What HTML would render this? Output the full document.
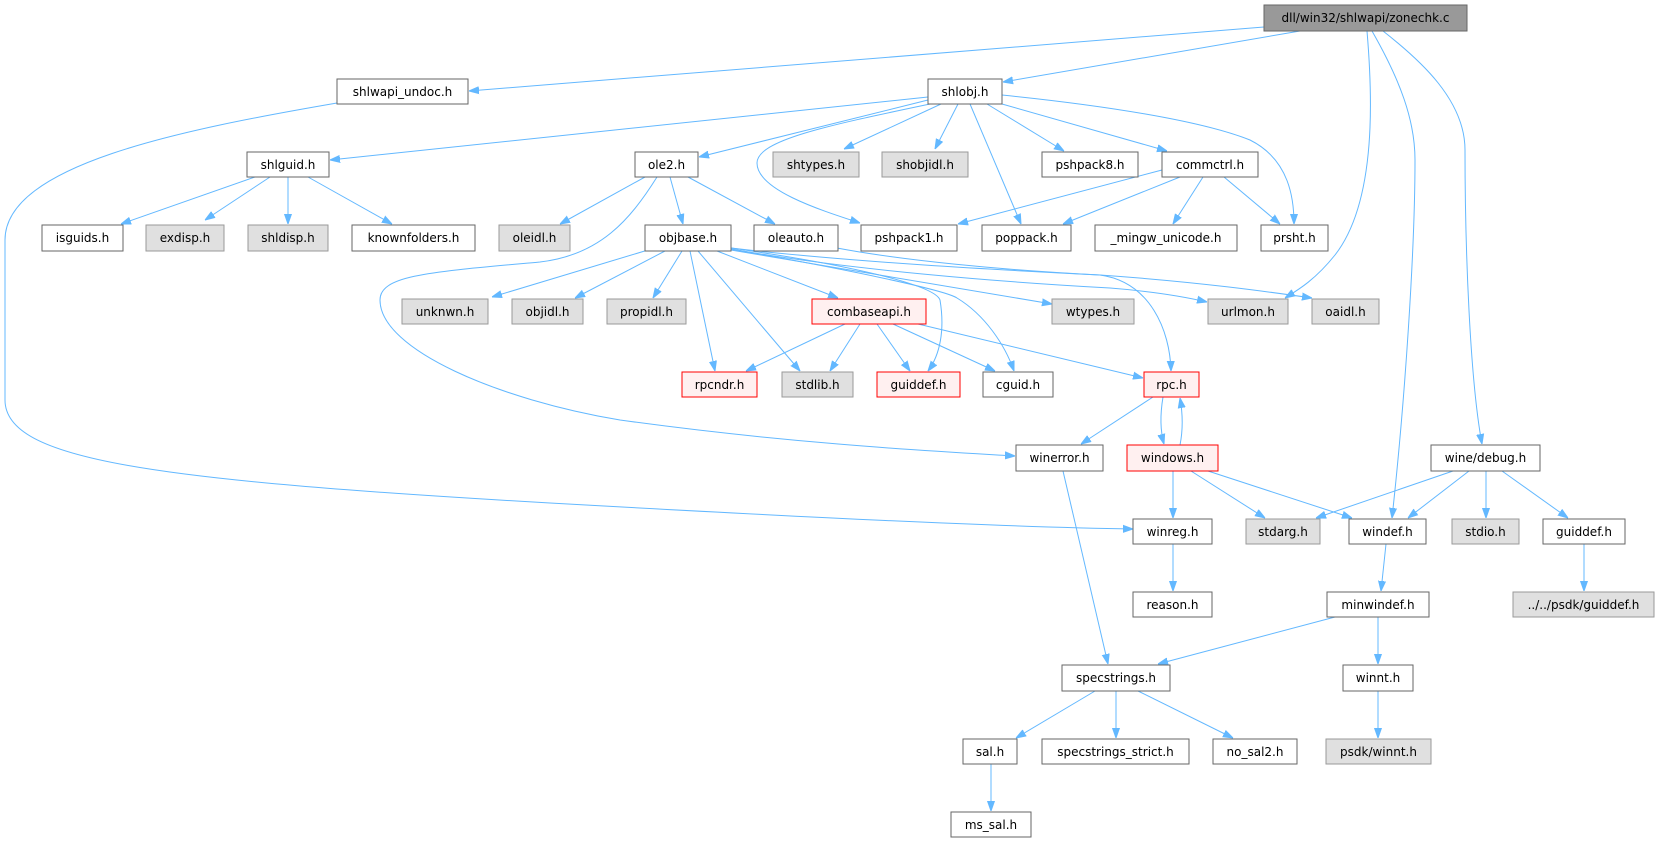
<!DOCTYPE html>
<html><head><meta charset="utf-8"><style>
html,body{margin:0;padding:0;background:#fff;}
svg{display:block;}
text{font-family:"DejaVu Sans","Liberation Sans",sans-serif;font-size:12px;fill:#000;text-anchor:middle;}
.w{fill:#fff;stroke:#666;stroke-width:1;}
.g{fill:#e0e0e0;stroke:#999;stroke-width:1;}
.r{fill:#fff0f0;stroke:#f00;stroke-width:1;}
.m{fill:#999;stroke:#666;stroke-width:1;}
path{fill:none;stroke:#63b8ff;stroke-width:1;marker-end:url(#a);}
</style></head><body>
<svg width="1663" height="843" viewBox="0 0 1663 843" xmlns="http://www.w3.org/2000/svg">
<defs><marker id="a" viewBox="0 0 10 10" refX="10" refY="5" markerWidth="10" markerHeight="10" markerUnits="userSpaceOnUse" orient="auto"><path d="M0,1.5 L10,5 L0,8.5 z" style="fill:#63b8ff;stroke:#63b8ff;marker-end:none"/></marker></defs>

<!-- edges -->
<path d="M1264,27 L469,91"/>
<path d="M1300,31 L1003,82"/>
<path d="M1367,31 C1372,90 1378,200 1335,255 C1315,280 1298,290 1285,298"/>
<path d="M1372,31 C1400,80 1415,120 1415,160 C1415,250 1405,400 1392,518"/>
<path d="M1383,31 C1420,60 1465,100 1465,150 C1465,250 1470,380 1482,444"/>
<path d="M337,103 C180,130 5,165 5,240 L5,400 C5,460 150,480 550,503 C800,517 1000,527 1133,529"/>
<path d="M928,97 L330,160"/>
<path d="M928,100 L699,157"/>
<path d="M930,104 C830,125 757,140 757,163 C757,190 820,210 860,223"/>
<path d="M941,104 L844,149"/>
<path d="M958,104 L935,149"/>
<path d="M970,104 L1021,224"/>
<path d="M987,104 L1064,151"/>
<path d="M1002,104 L1167,151"/>
<path d="M1002,95 C1100,105 1200,120 1250,140 C1290,160 1294,200 1294,224"/>
<path d="M255,177 L121,224"/>
<path d="M270,177 L205,220"/>
<path d="M288,177 L288,224"/>
<path d="M308,177 L392,224"/>
<path d="M645,177 L560,224"/>
<path d="M670,177 L683,224"/>
<path d="M688,177 L775,224"/>
<path d="M657,177 C630,220 600,255 540,262 C430,272 380,275 380,300 C380,350 500,400 620,420 C800,445 950,452 1015,456"/>
<path d="M648,250 L492,297"/>
<path d="M665,251 L575,298"/>
<path d="M682,251 L653,298"/>
<path d="M690,251 L715,371"/>
<path d="M698,251 L800,371"/>
<path d="M717,251 L838,298"/>
<path d="M731,248 C850,265 935,285 940,300 C945,330 940,355 928,371"/>
<path d="M731,249 C850,270 945,290 957,298 C985,315 1005,345 1014,371"/>
<path d="M731,250 L1052,304"/>
<path d="M731,249 C850,270 1000,282 1110,288 C1160,292 1190,298 1207,302"/>
<path d="M731,248 C850,262 1000,270 1100,275 C1150,282 1170,330 1171,371"/>
<path d="M837,248 C900,260 1000,270 1100,275 C1200,282 1270,292 1312,298"/>
<path d="M845,324 L746,371"/>
<path d="M860,324 L830,371"/>
<path d="M877,324 L910,371"/>
<path d="M893,324 L995,371"/>
<path d="M918,324 L1143,378"/>
<path d="M1153,397 L1081,444"/>
<path d="M1163,397 C1160,415 1160,430 1164,444"/>
<path d="M1180,445 C1183,430 1183,415 1180,398"/>
<path d="M1173,471 L1173,518"/>
<path d="M1191,471 L1265,518"/>
<path d="M1208,471 L1352,518"/>
<path d="M1453,471 L1316,518"/>
<path d="M1469,471 L1408,518"/>
<path d="M1486,471 L1486,518"/>
<path d="M1502,471 L1568,518"/>
<path d="M1173,544 L1173,591"/>
<path d="M1386,544 L1381,591"/>
<path d="M1335,617 L1158,664"/>
<path d="M1378,617 L1378,664"/>
<path d="M1378,691 L1378,738"/>
<path d="M1584,544 L1584,591"/>
<path d="M1063,471 L1108,664"/>
<path d="M1095,691 L1016,738"/>
<path d="M1116,691 L1116,738"/>
<path d="M1138,691 L1233,738"/>
<path d="M991,764 L991,811"/>
<path d="M1162,170 L958,224"/>
<path d="M1180,177 L1063,224"/>
<path d="M1203,177 L1173,224"/>
<path d="M1224,177 L1280,224"/>

<!-- nodes -->
<rect class="m" x="1264" y="5" width="203" height="26"/><text x="1365.5" y="22">dll/win32/shlwapi/zonechk.c</text>
<rect class="w" x="337" y="79" width="131" height="25"/><text x="402.5" y="96">shlwapi_undoc.h</text>
<rect class="w" x="928" y="79" width="74" height="25"/><text x="965" y="96">shlobj.h</text>
<rect class="w" x="247" y="152" width="82" height="25"/><text x="288" y="169">shlguid.h</text>
<rect class="w" x="635" y="152" width="63" height="25"/><text x="666.5" y="169">ole2.h</text>
<rect class="g" x="773" y="152" width="86" height="25"/><text x="816" y="169">shtypes.h</text>
<rect class="g" x="882" y="152" width="86" height="25"/><text x="925" y="169">shobjidl.h</text>
<rect class="w" x="1042" y="152" width="96" height="25"/><text x="1090" y="169">pshpack8.h</text>
<rect class="w" x="1162" y="152" width="96" height="25"/><text x="1210" y="169">commctrl.h</text>
<rect class="w" x="42" y="225" width="81" height="26"/><text x="82.5" y="242">isguids.h</text>
<rect class="g" x="146" y="225" width="78" height="26"/><text x="185" y="242">exdisp.h</text>
<rect class="g" x="248" y="225" width="80" height="26"/><text x="288" y="242">shldisp.h</text>
<rect class="w" x="352" y="225" width="123" height="26"/><text x="413.5" y="242">knownfolders.h</text>
<rect class="g" x="499" y="225" width="71" height="26"/><text x="534.5" y="242">oleidl.h</text>
<rect class="w" x="645" y="225" width="86" height="26"/><text x="688" y="242">objbase.h</text>
<rect class="w" x="754" y="225" width="84" height="26"/><text x="796" y="242">oleauto.h</text>
<rect class="w" x="861" y="225" width="96" height="26"/><text x="909" y="242">pshpack1.h</text>
<rect class="w" x="982" y="225" width="89" height="26"/><text x="1026.5" y="242">poppack.h</text>
<rect class="w" x="1095" y="225" width="142" height="26"/><text x="1166" y="242">_mingw_unicode.h</text>
<rect class="w" x="1261" y="225" width="67" height="26"/><text x="1294.5" y="242">prsht.h</text>
<rect class="g" x="402" y="299" width="86" height="25"/><text x="445" y="316">unknwn.h</text>
<rect class="g" x="512" y="299" width="71" height="25"/><text x="547.5" y="316">objidl.h</text>
<rect class="g" x="607" y="299" width="79" height="25"/><text x="646.5" y="316">propidl.h</text>
<rect class="r" x="812" y="299" width="114" height="25"/><text x="869" y="316">combaseapi.h</text>
<rect class="g" x="1052" y="299" width="82" height="25"/><text x="1093" y="316">wtypes.h</text>
<rect class="g" x="1208" y="299" width="80" height="25"/><text x="1248" y="316">urlmon.h</text>
<rect class="g" x="1312" y="299" width="67" height="25"/><text x="1345.5" y="316">oaidl.h</text>
<rect class="r" x="682" y="372" width="75" height="25"/><text x="719.5" y="389">rpcndr.h</text>
<rect class="g" x="782" y="372" width="71" height="25"/><text x="817.5" y="389">stdlib.h</text>
<rect class="r" x="877" y="372" width="83" height="25"/><text x="918.5" y="389">guiddef.h</text>
<rect class="w" x="983" y="372" width="70" height="25"/><text x="1018" y="389">cguid.h</text>
<rect class="r" x="1144" y="372" width="55" height="25"/><text x="1171.5" y="389">rpc.h</text>
<rect class="w" x="1016" y="445" width="87" height="26"/><text x="1059.5" y="462">winerror.h</text>
<rect class="r" x="1127" y="445" width="91" height="26"/><text x="1172.5" y="462">windows.h</text>
<rect class="w" x="1431" y="445" width="109" height="26"/><text x="1485.5" y="462">wine/debug.h</text>
<rect class="w" x="1133" y="519" width="79" height="25"/><text x="1172.5" y="536">winreg.h</text>
<rect class="g" x="1246" y="519" width="74" height="25"/><text x="1283" y="536">stdarg.h</text>
<rect class="w" x="1349" y="519" width="77" height="25"/><text x="1387.5" y="536">windef.h</text>
<rect class="g" x="1452" y="519" width="67" height="25"/><text x="1485.5" y="536">stdio.h</text>
<rect class="w" x="1543" y="519" width="82" height="25"/><text x="1584" y="536">guiddef.h</text>
<rect class="w" x="1133" y="592" width="79" height="25"/><text x="1172.5" y="609">reason.h</text>
<rect class="w" x="1327" y="592" width="102" height="25"/><text x="1378" y="609">minwindef.h</text>
<rect class="g" x="1513" y="592" width="141" height="25"/><text x="1583.5" y="609">../../psdk/guiddef.h</text>
<rect class="w" x="1062" y="665" width="108" height="26"/><text x="1116" y="682">specstrings.h</text>
<rect class="w" x="1343" y="665" width="70" height="26"/><text x="1378" y="682">winnt.h</text>
<rect class="w" x="963" y="739" width="54" height="25"/><text x="990" y="756">sal.h</text>
<rect class="w" x="1042" y="739" width="147" height="25"/><text x="1115.5" y="756">specstrings_strict.h</text>
<rect class="w" x="1213" y="739" width="84" height="25"/><text x="1255" y="756">no_sal2.h</text>
<rect class="g" x="1326" y="739" width="105" height="25"/><text x="1378.5" y="756">psdk/winnt.h</text>
<rect class="w" x="951" y="812" width="80" height="25"/><text x="991" y="829">ms_sal.h</text>
</svg>
</body></html>
